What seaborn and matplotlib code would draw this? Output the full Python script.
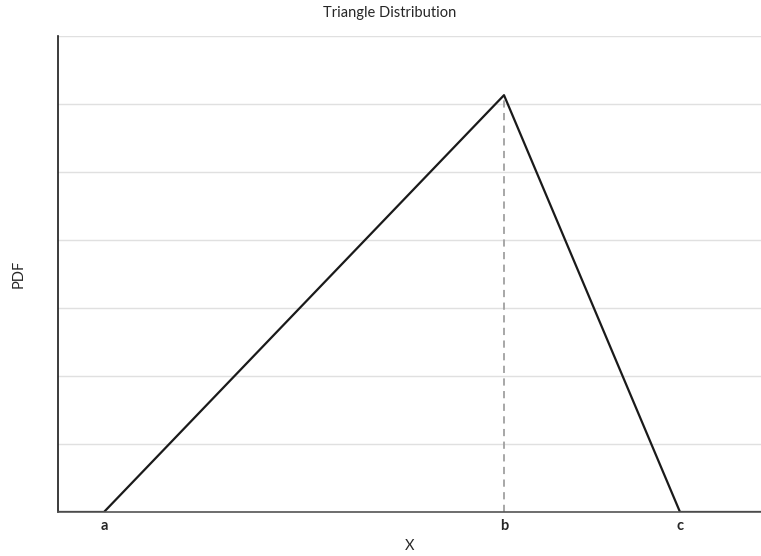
import matplotlib
matplotlib.use('Agg')
import pandas as pd
import seaborn as sns
import matplotlib.pyplot as plt

# triangle outline (y in gridline units)
xs = [-0.46, 0.0, 4.0, 5.76, 6.57]
pdf = [0.0, 0.0, 6.13, 0.0, 0.0]
tick_pos = [0.0, 4.0, 5.76]
tick_labels = ['a', 'b', 'c']
mode_x = 4.0
mode_y = 6.13

sns.set_style('whitegrid')
plt.rcParams['font.family'] = ['Lato', 'DejaVu Sans']

fig = plt.figure(figsize=(7.61, 5.56), dpi=100)
ax = fig.add_axes([58 / 761, 44 / 556, 703 / 761, 476 / 556])

data = pd.DataFrame({'X': xs, 'PDF': pdf})
sns.lineplot(data=data, x='X', y='PDF', ax=ax, color='#1a1a1a', linewidth=1.6,
             sort=False)
ax.plot([mode_x, mode_x], [0, mode_y], color='#a0a0a0', linestyle=(0, (4, 3)),
        linewidth=1.3, zorder=1)

ax.set_xlim(-0.46, 6.57)
ax.set_ylim(0, 7)
ax.set_yticks(range(0, 8))
ax.set_yticklabels([])
ax.tick_params(axis='y', length=0)
ax.set_xticks(tick_pos)
ax.set_xticklabels(tick_labels, fontweight='bold', fontsize=10.5)
ax.tick_params(axis='x', length=0, pad=5)
ax.grid(axis='x', visible=False)
ax.grid(axis='y', color='#e0e0e0', linewidth=1)

for s in ['top', 'right']:
    ax.spines[s].set_visible(False)
ax.spines['left'].set_color('#1a1a1a')
ax.spines['left'].set_linewidth(1.2)
ax.spines['bottom'].set_color('#555555')
ax.spines['bottom'].set_linewidth(1.2)

ax.set_xlabel('X', fontsize=10.5, labelpad=4)
ax.set_ylabel('PDF', fontsize=10.5, labelpad=20)
ax.set_title('Triangle Distribution', fontsize=10.5, pad=14, x=0.472)

fig.savefig('out.png', dpi=100)
